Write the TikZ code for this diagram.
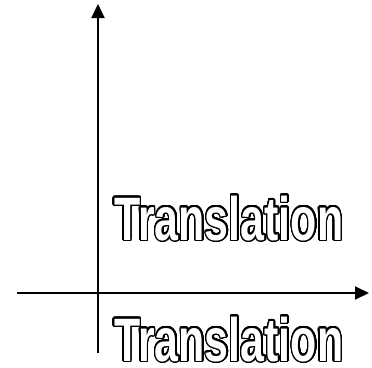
\documentclass[tikz,border=0pt]{standalone}
\usepackage{fontspec}
\usepackage[copies]{contour}
\usetikzlibrary{arrows.meta}
\newfontfamily\narrowfont[FakeStretch=0.70]{Liberation Sans}
\contourlength{1.1pt}
\contournumber{32}

\begin{document}
\begin{tikzpicture}[x=0.75pt, y=-0.75pt,
    axis/.style={line width=1.5pt, -{Triangle[length=10.5pt, width=9.75pt]}},
    hollow/.style={anchor=base west, inner sep=0pt,
                   font=\narrowfont\bfseries\fontsize{46}{50}\selectfont}
  ]
  \useasboundingbox (0,0) rectangle (372,368);
  % axes
  \coordinate (ybot) at (98,353);
  \coordinate (ytop) at (98,4);
  \coordinate (xleft) at (17,293);
  \coordinate (xright) at (369,293);
  \draw[axis] (ybot) -- (ytop);
  \draw[axis] (xleft) -- (xright);
  % outlined labels
  \node[hollow] (upper) at (114,240) {\contour{black}{\textcolor{white}{Translation}}};
  \node[hollow] (lower) at (114,361) {\contour{black}{\textcolor{white}{Translation}}};
\end{tikzpicture}
\end{document}
